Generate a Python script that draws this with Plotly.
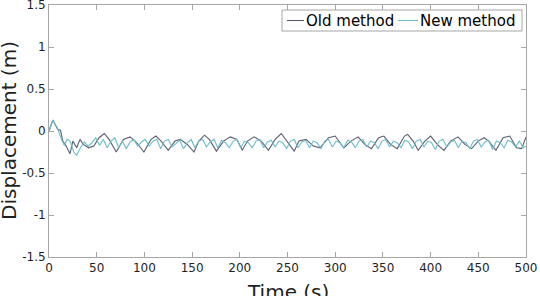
import plotly.graph_objects as go

# ---- data ----
t_old = [0, 4, 9, 12, 14.5, 18, 22, 25, 29, 32.5, 36, 41.5, 47, 52.5, 58, 63, 70.5, 78, 85, 92,
         99.5, 107, 112, 117.5, 125, 132, 137.5, 145, 152, 157, 163, 168, 175.5, 183, 190, 197,
         202.6, 208, 215, 222.5, 230, 237, 243.5, 249.6, 257, 262, 269.5, 277, 284, 293, 300,
         309, 316.5, 324, 331, 338, 345.5, 351, 358, 365, 372.6, 376, 381.7, 387, 394, 400,
         407, 414, 421, 428.7, 436, 443, 450, 456, 461, 468.5, 476, 483, 490, 495.5, 500]
y_old = [0, 0.13, 0.02, 0.01, -0.12, -0.18, -0.27, -0.12, -0.20, -0.10, -0.16, -0.20, -0.18,
         -0.08, -0.03, -0.10, -0.25, -0.10, -0.07, -0.14, -0.25, -0.10, -0.06, -0.12, -0.23,
         -0.12, -0.10, -0.16, -0.25, -0.12, -0.05, -0.10, -0.24, -0.12, -0.07, -0.10, -0.23,
         -0.12, -0.07, -0.12, -0.23, -0.10, -0.03, -0.12, -0.24, -0.12, -0.10, -0.18, -0.20,
         -0.08, -0.06, -0.20, -0.12, -0.07, -0.16, -0.21, -0.08, -0.06, -0.16, -0.21, -0.06,
         -0.04, -0.12, -0.23, -0.12, -0.06, -0.16, -0.23, -0.12, -0.07, -0.16, -0.21, -0.12,
         -0.08, -0.12, -0.23, -0.08, -0.06, -0.20, -0.21, -0.07]

t_new = [0, 4, 9, 13, 16, 19, 22, 26, 29, 33, 37, 41, 45, 49, 53, 57, 61, 65, 69, 73, 77, 81,
         85, 89, 93, 97, 101, 105, 109, 113, 117, 121, 125, 129, 133, 137, 141, 145, 149, 153,
         157, 161, 165, 169, 173, 177, 181, 185, 189, 193, 197, 201, 205, 209, 213, 217, 221,
         225, 229, 233, 237, 241, 245, 249, 253, 257, 261, 265, 269, 273, 277, 281, 285, 289,
         293, 297, 301, 305, 309, 313, 317, 321, 325, 329, 333, 337, 341, 345, 349, 353, 357,
         361, 365, 369, 373, 377, 381, 385, 389, 393, 397, 401, 405, 409, 413, 417, 421, 425,
         429, 433, 437, 441, 445, 449, 453, 457, 461, 465, 469, 473, 477, 481, 485, 489, 493,
         497, 500]
y_new = [0, 0.13, 0.03, -0.10, -0.17, -0.10, -0.12, -0.25, -0.29, -0.20, -0.13, -0.18, -0.14,
         -0.08, -0.17, -0.10, -0.20, -0.12, -0.08, -0.20, -0.12, -0.21, -0.13, -0.10, -0.18,
         -0.13, -0.10, -0.18, -0.12, -0.10, -0.21, -0.12, -0.10, -0.19, -0.15, -0.11, -0.21,
         -0.14, -0.10, -0.20, -0.12, -0.10, -0.19, -0.13, -0.10, -0.20, -0.11, -0.14, -0.20,
         -0.12, -0.10, -0.20, -0.12, -0.14, -0.20, -0.12, -0.10, -0.20, -0.13, -0.11, -0.19,
         -0.12, -0.14, -0.21, -0.12, -0.10, -0.20, -0.13, -0.11, -0.20, -0.12, -0.14, -0.21,
         -0.12, -0.10, -0.19, -0.12, -0.14, -0.20, -0.11, -0.13, -0.20, -0.12, -0.10, -0.19,
         -0.12, -0.14, -0.21, -0.12, -0.10, -0.19, -0.12, -0.14, -0.20, -0.11, -0.13, -0.21,
         -0.12, -0.10, -0.19, -0.12, -0.14, -0.22, -0.12, -0.10, -0.19, -0.13, -0.11, -0.20,
         -0.12, -0.14, -0.21, -0.12, -0.10, -0.19, -0.13, -0.11, -0.22, -0.12, -0.14, -0.20,
         -0.11, -0.13, -0.19, -0.12, -0.20, -0.18]

x_ticks = [0, 50, 100, 150, 200, 250, 300, 350, 400, 450, 500]
y_ticks = [-1.5, -1, -0.5, 0, 0.5, 1, 1.5]
y_tick_text = ["-1.5", "-1", "-0.5", "0", "0.5", "1", "1.5"]
series_names = ["Old method", "New method"]
series_colors = ["#5b5e72", "#6cbccb"]

FONT = "DejaVu Sans"
AX = "#a6a6a6"
TXT = "#1f1f1f"

# plot-area geometry in pixels
W, H = 540, 296
L, R, T, B = 49, 14, 5, 39
PW, PH = W - L - R, H - T - B


def px(x):
    return (x - L) / PW


def py(y):
    return (H - B - y) / PH


fig = go.Figure()
fig.add_trace(go.Scatter(x=t_old, y=y_old, mode="lines", name=series_names[0],
                         line=dict(color=series_colors[0], width=1.1), showlegend=False))
fig.add_trace(go.Scatter(x=t_new, y=y_new, mode="lines", name=series_names[1],
                         line=dict(color=series_colors[1], width=1.1), showlegend=False))

axis_common = dict(showline=True, linecolor=AX, linewidth=1, mirror="ticks",
                   ticks="inside", ticklen=5, tickcolor=AX, showgrid=False,
                   zeroline=False, automargin=False, ticklabeloverflow="allow",
                   tickfont=dict(family=FONT, size=12, color=TXT))

# custom legend (MATLAB style: short line samples, boxed)
leg_shapes = [
    dict(type="rect", xref="paper", yref="paper", x0=px(282), x1=px(522), y0=py(31), y1=py(10),
         line=dict(color=AX, width=1), fillcolor="white", layer="above"),
    dict(type="line", xref="paper", yref="paper", x0=px(287), x1=px(304), y0=py(20.5), y1=py(20.5),
         line=dict(color=series_colors[0], width=1.1), layer="above"),
    dict(type="line", xref="paper", yref="paper", x0=px(398), x1=px(418), y0=py(20.5), y1=py(20.5),
         line=dict(color=series_colors[1], width=1.1), layer="above"),
]
leg_ann = [
    dict(text=series_names[0], xref="paper", yref="paper", x=px(304), y=py(20.5),
         xanchor="left", yanchor="middle", showarrow=False,
         font=dict(family=FONT, size=15, color="black")),
    dict(text=series_names[1], xref="paper", yref="paper", x=px(418), y=py(20.5),
         xanchor="left", yanchor="middle", showarrow=False,
         font=dict(family=FONT, size=15, color="black")),
]

fig.update_layout(
    width=W, height=H,
    margin=dict(l=L, r=R, t=T, b=B),
    paper_bgcolor="white", plot_bgcolor="white",
    font=dict(family=FONT, color=TXT),
    showlegend=False,
    xaxis=dict(range=[0, 500], tickvals=x_ticks, **axis_common),
    yaxis=dict(range=[-1.5, 1.5], tickvals=y_ticks, ticktext=y_tick_text, **axis_common),
    shapes=leg_shapes,
    annotations=[
        dict(text="Time (s)", xref="paper", yref="paper", x=0.5, y=py(278),
             xanchor="center", yanchor="top", showarrow=False,
             font=dict(family=FONT, size=20, color=TXT)),
        dict(text="Displacement (m)", xref="paper", yref="paper", x=px(9), y=0.5,
             xanchor="center", yanchor="middle", textangle=-90, showarrow=False,
             font=dict(family=FONT, size=20, color=TXT)),
    ] + leg_ann,
)

fig.write_html("out.html", config={"displayModeBar": False},
               post_script="document.body.style.margin='0';document.body.style.overflow='hidden';")
